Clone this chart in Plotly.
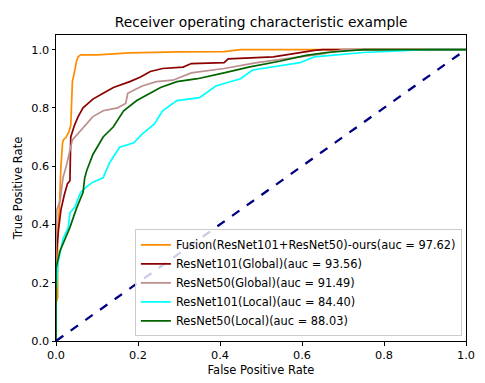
import plotly.graph_objects as go

# ROC points (false positive rate, true positive rate)
fusion_fpr = [0.0, 0.0, 0.004, 0.004, 0.008, 0.012, 0.016, 0.018, 0.025, 0.032, 0.036, 0.038, 0.04, 0.046, 0.05, 0.054, 0.06, 0.1, 0.15, 0.18, 0.3, 0.41, 0.45, 1.0]
fusion_tpr = [0.0, 0.13, 0.15, 0.37, 0.45, 0.6, 0.68, 0.69, 0.70, 0.72, 0.74, 0.82, 0.89, 0.93, 0.96, 0.975, 0.982, 0.982, 0.985, 0.989, 0.992, 0.993, 1.0, 1.0]

r101g_fpr = [0.0, 0.0, 0.006, 0.012, 0.02, 0.028, 0.034, 0.036, 0.045, 0.054, 0.066, 0.09, 0.115, 0.14, 0.18, 0.205, 0.23, 0.26, 0.31, 0.33, 0.41, 0.42, 0.53, 0.595, 0.63, 0.65, 1.0]
r101g_tpr = [0.0, 0.28, 0.38, 0.45, 0.5, 0.54, 0.55, 0.70, 0.74, 0.77, 0.80, 0.83, 0.85, 0.87, 0.89, 0.905, 0.925, 0.935, 0.94, 0.952, 0.955, 0.968, 0.975, 0.99, 0.997, 1.0, 1.0]

r50g_fpr = [0.0, 0.0, 0.002, 0.01, 0.017, 0.025, 0.04, 0.066, 0.09, 0.115, 0.15, 0.17, 0.175, 0.21, 0.245, 0.285, 0.33, 0.41, 0.49, 0.595, 0.65, 0.7, 1.0]
r50g_tpr = [0.0, 0.32, 0.45, 0.48, 0.56, 0.60, 0.69, 0.73, 0.77, 0.79, 0.80, 0.815, 0.85, 0.875, 0.89, 0.895, 0.92, 0.935, 0.955, 0.975, 0.985, 1.0, 1.0]

r101l_fpr = [0.0, 0.0, 0.002, 0.005, 0.017, 0.03, 0.034, 0.046, 0.06, 0.075, 0.09, 0.115, 0.13, 0.155, 0.19, 0.21, 0.24, 0.26, 0.295, 0.35, 0.39, 0.45, 0.48, 0.545, 0.595, 0.63, 0.69, 0.75, 0.82, 0.9, 1.0]
r101l_tpr = [0.0, 0.17, 0.2, 0.27, 0.35, 0.39, 0.44, 0.46, 0.51, 0.53, 0.545, 0.56, 0.61, 0.665, 0.68, 0.71, 0.745, 0.79, 0.825, 0.835, 0.875, 0.90, 0.93, 0.945, 0.955, 0.975, 0.982, 0.99, 0.995, 1.0, 1.0]

r50l_fpr = [0.0, 0.0, 0.01, 0.034, 0.05, 0.066, 0.07, 0.075, 0.09, 0.115, 0.14, 0.165, 0.197, 0.23, 0.255, 0.295, 0.345, 0.41, 0.47, 0.545, 0.61, 0.66, 0.75, 1.0]
r50l_tpr = [0.0, 0.25, 0.31, 0.39, 0.455, 0.51, 0.56, 0.585, 0.64, 0.70, 0.735, 0.79, 0.825, 0.85, 0.87, 0.89, 0.90, 0.92, 0.94, 0.96, 0.98, 0.99, 1.0, 1.0]

names = [
    "Fusion(ResNet101+ResNet50)-ours(auc = 97.62)",
    "ResNet101(Global)(auc = 93.56)",
    "ResNet50(Global)(auc = 91.49)",
    "ResNet101(Local)(auc = 84.40)",
    "ResNet50(Local)(auc = 88.03)",
]
colors = ["darkorange", "darkred", "rosybrown", "cyan", "darkgreen"]

curves = [
    (fusion_fpr, fusion_tpr),
    (r101g_fpr, r101g_tpr),
    (r50g_fpr, r50g_tpr),
    (r101l_fpr, r101l_tpr),
    (r50l_fpr, r50l_tpr),
]

fig = go.Figure()
for (fpr, tpr), name, col in zip(curves, names, colors):
    fig.add_trace(go.Scatter(x=fpr, y=tpr, mode="lines", name=name,
                             line=dict(color=col, width=1.7)))

# chance line
fig.add_trace(go.Scatter(x=[0, 1], y=[0, 1], mode="lines", showlegend=False,
                         line=dict(color="navy", width=2.3, dash="dash")))

# the page body adds an 8px margin, so the margins here are shifted by 8px
font = "DejaVu Sans"
fig.update_layout(
    width=485, height=383,
    margin=dict(l=48, r=27, t=27, b=50),
    paper_bgcolor="white", plot_bgcolor="white",
    font=dict(family=font, size=11.3, color="black"),
    title=dict(text="Receiver operating characteristic example", x=0.522, xanchor="center",
               y=0.963, yanchor="middle", font=dict(size=13.8)),
    showlegend=True,
    legend=dict(x=0.99, y=0.015, xanchor="right", yanchor="bottom",
                bgcolor="rgba(255,255,255,0.8)", bordercolor="#cccccc", borderwidth=1,
                font=dict(size=11.4), tracegroupgap=0, itemwidth=30),
)
fig.update_xaxes(range=[0, 1], tickvals=[0, 0.2, 0.4, 0.6, 0.8, 1.0], tickformat=".1f",
                 showgrid=False, zeroline=False, showline=True, linecolor="black", linewidth=1,
                 mirror=True, ticks="outside", ticklen=3.5, tickcolor="black", automargin=False,
                 title=dict(text="False Positive Rate", standoff=4, font=dict(size=11.5)))
fig.update_yaxes(range=[0, 1.05], tickvals=[0, 0.2, 0.4, 0.6, 0.8, 1.0], tickformat=".1f",
                 showgrid=False, zeroline=False, showline=True, linecolor="black", linewidth=1,
                 mirror=True, ticks="outside", ticklen=3.5, tickcolor="black", automargin=False,
                 title=dict(text="True Positive Rate", standoff=6, font=dict(size=11.5)))

fig.write_html("out.html")
